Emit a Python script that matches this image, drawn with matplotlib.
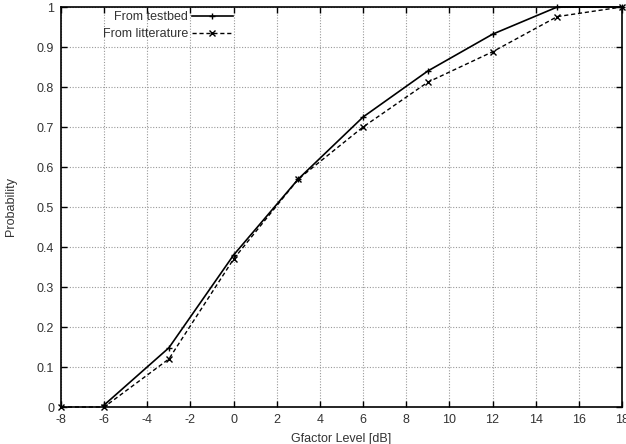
import matplotlib
matplotlib.use("Agg")
import matplotlib.pyplot as plt

plt.rcParams['font.family'] = ['Liberation Sans', 'DejaVu Sans']

x_testbed = [-6, -3, 0, 3, 6, 9, 12, 15, 18]
y_testbed = [0.005, 0.148, 0.38, 0.57, 0.725, 0.84, 0.932, 1.0, 1.0]
x_lit = [-8, -6, -3, 0, 3, 6, 9, 12, 15, 18]
y_lit = [0.0, 0.0, 0.12, 0.37, 0.57, 0.70, 0.812, 0.888, 0.976, 1.0]
xticks = list(range(-8, 19, 2))
yticks = [0, 0.1, 0.2, 0.3, 0.4, 0.5, 0.6, 0.7, 0.8, 0.9, 1]

fig = plt.figure(figsize=(6.26, 4.44), dpi=100)
ax = fig.add_axes([61/626, 1-407/444, (622-61)/626, 400/444])
ax.plot(x_testbed, y_testbed, color='black', lw=1.2, ls='-', marker='+', ms=5, mew=1,
        label='From testbed', clip_on=False, zorder=3)
ax.plot(x_lit, y_lit, color='black', lw=1.0, ls=(0, (3, 2)), marker='x', ms=4, mew=1,
        label='From litterature', clip_on=False, zorder=3)
ax.set_xlim(-8, 18)
ax.set_ylim(0, 1)
ax.set_xticks(xticks)
ax.set_xticklabels([str(t) for t in xticks])
ax.set_yticks(yticks)
ax.set_yticklabels([('%g' % t) for t in yticks])
ax.grid(True, color='#999999', ls=(0, (1, 1.5)), lw=0.8)
ax.tick_params(direction='in', top=True, right=True, labelsize=9, length=4, width=1, pad=5,
               labelcolor='#333333')
for s in ax.spines.values():
    s.set_linewidth(1.2)
ax.set_xlabel('Gfactor Level [dB]', fontsize=9, labelpad=5, color='#333333')
ax.set_ylabel('Probability', fontsize=9, labelpad=14, color='#333333')
leg = ax.legend(loc='upper right', bbox_to_anchor=((233-61)/561, 0.99), markerfirst=False,
                frameon=False, fontsize=9, handlelength=3.3, handletextpad=0.3,
                labelspacing=0.4, borderaxespad=0, borderpad=0)
for t in leg.get_texts():
    t.set_color('#333333')
fig.savefig('out.png', dpi=100)
